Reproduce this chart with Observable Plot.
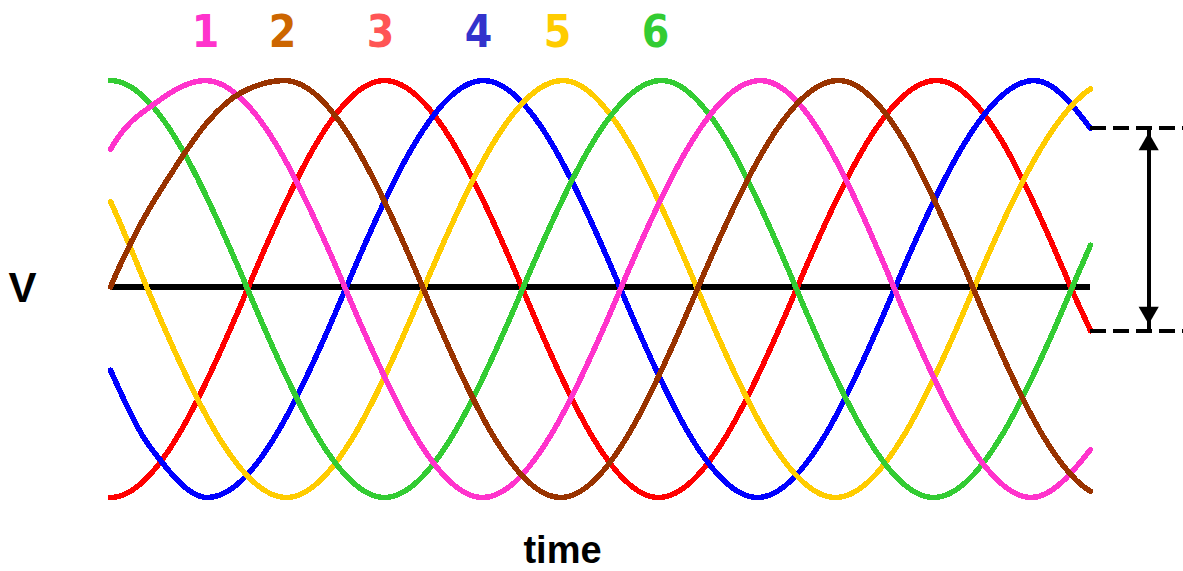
<!DOCTYPE html>
<html>
<head>
<meta charset="utf-8">
<script src="https://cdn.jsdelivr.net/npm/d3@7"></script>
<script src="https://cdn.jsdelivr.net/npm/@observablehq/plot@0.6"></script>
<style>
html, body { margin: 0; padding: 0; background: #fff; }
svg { display: block; }
</style>
</head>
<body>
<div id="chart"></div>
<script>
// Six-phase voltages, points: [time (electrical degrees), voltage (per unit)]
const phase1 = [[0,0.67],[19.6,0.84],[62.0,1],[153.5,0],[243.0,-1],[333.1,0],[424.5,1],[512.0,0],[601.5,-1],[640,-0.77]];
const phase2 = [[0,0.01],[19.6,0.31],[41.1,0.57],[63.3,0.80],[84.9,0.94],[113.6,1],[204.4,0],[293.9,-1],[383.3,0],[475.4,1],[563.6,0],[640,-0.97]];
const phase3 = [[0,-1],[89.5,0],[178.9,1],[269.1,0],[357.9,-1],[448.0,0],[539.4,1],[627.6,0],[640,-0.20]];
const phase4 = [[0,-0.39],[26.1,-0.76],[63.3,-1],[153.5,0],[243.6,1],[333.1,0],[422.5,-1],[512.0,0],[603.4,1],[640,0.77]];
const phase5 = [[0,0.42],[24.2,0],[114.9,-1],[204.4,0],[295.2,1],[383.3,0],[473.5,-1],[563.6,0],[640,0.96]];
const phase6 = [[0,1],[89.5,0],[178.9,-1],[269.1,0],[359.8,1],[448.0,0],[537.5,-1],[627.6,0],[640,0.21]];

const phaseNames = ["1", "2", "3", "4", "5", "6"];
const lineColors = ["#ff33cc", "#993300", "#ff0000", "#0000ff", "#ffcc00", "#33cc33"];
const labelColors = ["#ff33cc", "#cc6600", "#ff5555", "#3333cc", "#ffcc00", "#33cc33"];
const labelTime = [62.0, 112.3, 176.3, 240.3, 291.9, 355.9];

// span marked on the right: end values of phase 4 (top) and phase 3 (bottom)
const spanEnds = [0.77, -0.20];
const spanTime = [640, 701];
const arrowTime = 678;

const phases = [phase1, phase2, phase3, phase4, phase5, phase6];
const drawOrder = [2, 3, 4, 5, 0, 1];

// layout
const W = 1183, H = 571, ML = 110, MR = 93, MT = 80, MB = 74;
const xDomain = [0, 640], yDomain = [-1, 1];

// smooth curve through the read points: cubic Hermite whose tangents are flat at
// the peaks/troughs and limited by the wave's amplitude elsewhere (pixel space)
const CY = MT + (H - MB - MT) / 2;
const AMP = (H - MB - MT) / 2;
const PX_PER_DEG = (W - MR - ML) / (xDomain[1] - xDomain[0]);
const OMEGA = (2 * Math.PI) / (360 * PX_PER_DEG);
function waveCurve(context) {
  let xs, ys;
  return {
    areaStart() {}, areaEnd() {},
    lineStart() { xs = []; ys = []; },
    point(x, y) { xs.push(+x); ys.push(+y); },
    lineEnd() {
      const n = xs.length;
      if (!n) return;
      const m = new Array(n);
      for (let i = 0; i < n; i++) {
        const a = Math.max(0, i - 1), b = Math.min(n - 1, i + 1);
        const sec = (ys[b] - ys[a]) / (xs[b] - xs[a]);
        const yn = (CY - ys[i]) / AMP;
        const isEnd = i === 0 || i === n - 1;
        const k = (isEnd || Math.abs(yn) < 0.1) ? Math.PI / 2 : 1;
        const lim = AMP * OMEGA * Math.sqrt(Math.max(0, 1 - yn * yn));
        m[i] = Math.sign(sec) * Math.min(Math.abs(sec) * k, lim);
      }
      context.moveTo(xs[0], ys[0]);
      for (let i = 0; i < n - 1; i++) {
        const d = (xs[i + 1] - xs[i]) / 3;
        context.bezierCurveTo(xs[i] + d, ys[i] + m[i] * d, xs[i + 1] - d, ys[i + 1] - m[i + 1] * d, xs[i + 1], ys[i + 1]);
      }
    }
  };
}

const lineMarks = drawOrder.map(i =>
  Plot.line(phases[i], {
    x: d => d[0], y: d => d[1],
    curve: waveCurve,
    stroke: lineColors[i],
    strokeWidth: 5.5,
    shapeRendering: "crispEdges"
  })
);

const chart = Plot.plot({
  width: W,
  height: H,
  marginLeft: ML,
  marginRight: MR,
  marginTop: MT,
  marginBottom: MB,
  x: {domain: xDomain, axis: null},
  y: {domain: yDomain, axis: null},
  color: {type: "identity"},
  style: {background: "white", overflow: "visible"},
  marks: [
    Plot.ruleY([0], {x1: 1.3, x2: 640, stroke: "black", strokeWidth: 6, dy: -2, shapeRendering: "crispEdges"}),
    ...lineMarks,
    Plot.ruleY(spanEnds, {y: d => d, x1: spanTime[0], x2: spanTime[1], stroke: "black", strokeWidth: 4, strokeDasharray: "16,7", shapeRendering: "crispEdges"}),
    Plot.link([spanEnds], {x1: () => arrowTime, x2: () => arrowTime, y1: d => d[0], y2: d => d[1], stroke: "black", strokeWidth: 4, shapeRendering: "crispEdges"}),
    Plot.dot([spanEnds[0]], {x: () => arrowTime, y: d => d, symbol: "triangle", r: 7.5, fill: "black", stroke: null, dy: 16}),
    Plot.dot([spanEnds[1]], {x: () => arrowTime, y: d => d, symbol: "triangle", r: 7.5, fill: "black", stroke: null, rotate: 180, dy: -18}),
    Plot.text(phaseNames, {
      x: (d, i) => labelTime[i], text: d => d, fill: (d, i) => labelColors[i],
      frameAnchor: "top", dy: -34, lineAnchor: "bottom",
      fontSize: 44, fontWeight: "bold",
      fontFamily: "'Liberation Sans Narrow', 'DejaVu Sans Condensed', 'Liberation Sans', sans-serif"
    }),
    Plot.text(["V"], {text: d => d, frameAnchor: "left", dx: -88, textAnchor: "middle", fontSize: 42, fontWeight: "bold", fill: "black", fontFamily: "'Liberation Sans', Arial, sans-serif"}),
    Plot.text(["time"], {text: d => d, frameAnchor: "bottom", dx: -38, dy: 65, lineAnchor: "bottom", fontSize: 38, fontWeight: "bold", fill: "black", fontFamily: "'Liberation Sans', Arial, sans-serif"})
  ]
});

document.getElementById("chart").appendChild(chart);
</script>
</body>
</html>
